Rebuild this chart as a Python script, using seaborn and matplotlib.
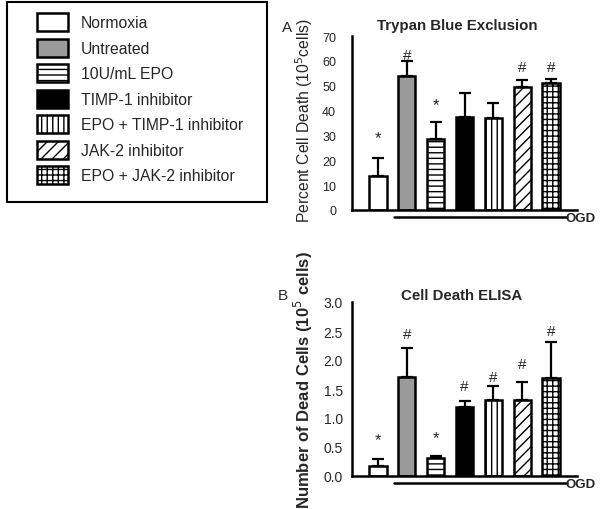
import seaborn as sns
import numpy as np
import matplotlib.pyplot as plt
import matplotlib.transforms as mtransforms
import matplotlib.patches as mpatches
import pandas as pd

groups = ["Normoxia", "Untreated", "10U/mL EPO", "TIMP-1 inhibitor",
          "EPO + TIMP-1 inhibitor", "JAK-2 inhibitor", "EPO + JAK-2 inhibitor"]
colors = ["white", "#9a9a9a", "white", "black", "white", "white", "white"]
hatches = ["", "", "---", "", "|||", "///", "+++"]

# panel A: trypan blue
trypan_mean = [13.7, 53.9, 28.7, 37.6, 37.2, 49.6, 51.0]
trypan_err = [7.1, 6.1, 6.9, 9.3, 6.0, 2.6, 1.6]
trypan_marks = ["*", "#", "*", "", "", "#", "#"]
trypan_mark_y = [29.0, 62.5, 42.5, 0, 0, 57.5, 57.5]

# panel B: ELISA
elisa_mean = [0.17, 1.70, 0.31, 1.19, 1.31, 1.31, 1.69]
elisa_err = [0.12, 0.50, 0.04, 0.10, 0.25, 0.31, 0.62]
elisa_marks = ["*", "#", "*", "#", "#", "#", "#"]
elisa_mark_y = [0.62, 2.45, 0.66, 1.55, 1.70, 1.93, 2.50]

sns.set_style("white")
plt.rcParams['font.family'] = ['Liberation Sans', 'DejaVu Sans']
plt.rcParams['hatch.linewidth'] = 1.0

fig = plt.figure(figsize=(6.01, 5.10), dpi=100)
ax_a = fig.add_axes([352 / 601, 1 - 211 / 510, 225 / 601, 174 / 510])
ax_b = fig.add_axes([352 / 601, 1 - 477 / 510, 225 / 601, 174 / 510])


def draw_panel(ax, means, errs, marks, mark_y, ylim, yticks, title, ylabel,
               lab_kw, tick_size, tick_pad, title_x, title_pad):
    df = pd.DataFrame({"group": groups, "value": means})
    sns.barplot(data=df, x="group", y="value", hue="group", order=groups,
                hue_order=groups, palette=dict(zip(groups, colors)),
                width=0.6, errorbar=None, legend=False, ax=ax,
                edgecolor="black", linewidth=1.8)
    for cont, h in zip(ax.containers, hatches):
        for bar in cont:
            bar.set_hatch(h)
            bar.set_edgecolor("black")
    x = np.arange(len(groups))
    ax.errorbar(x, means, yerr=[np.zeros(len(errs)), errs], fmt="none",
                ecolor="black", elinewidth=1.6, capsize=4, capthick=1.6, zorder=1)
    for xi, m, my in zip(x, marks, mark_y):
        if m:
            ax.text(xi, my, m, ha="center", va="center",
                    fontsize=11 if m == "#" else 12)
    ax.set_xlim(-0.9, 6.9)
    ax.set_ylim(*ylim)
    ax.set_yticks(yticks)
    ax.set_xticks(x)
    ax.set_xticklabels([])
    ax.set_xlabel("")
    ax.set_ylabel(ylabel, **lab_kw)
    ax.set_title(title, fontsize=10.8, fontweight="bold", pad=title_pad, x=title_x)
    ax.tick_params(axis="y", length=2, width=0.6, pad=tick_pad, labelsize=tick_size)
    ax.tick_params(axis="x", length=2, width=0.6, direction="out")
    for s in ["top", "right"]:
        ax.spines[s].set_visible(False)
    for s in ["left", "bottom"]:
        ax.spines[s].set_linewidth(1.8)
        ax.spines[s].set_color("black")
    trans = mtransforms.blended_transform_factory(ax.transData, ax.transAxes)
    ax.plot([0.55, 6.55], [-0.043, -0.043], color="black", lw=1.8,
            transform=trans, clip_on=False)
    ax.text(6.5, -0.048, "OGD", transform=trans, ha="left", va="center",
            fontsize=9.5, fontweight="bold")


draw_panel(ax_a, trypan_mean, trypan_err, trypan_marks, trypan_mark_y,
           (0, 70), range(0, 71, 10), "Trypan Blue Exclusion",
           "Percent Cell Death (10$^5$cells)", dict(fontsize=11.3), 9, 9.5,
           0.467, 5)
draw_panel(ax_b, elisa_mean, elisa_err, elisa_marks, elisa_mark_y,
           (0, 3), np.arange(0, 3.01, 0.5), "Cell Death ELISA",
           "Number of Dead Cells (10$^5$ cells)", dict(fontsize=12, fontweight="bold"),
           10, 4.5, 0.489, -2)
ax_b.set_yticklabels([f"{v:.1f}" for v in np.arange(0, 3.01, 0.5)])
ax_a.yaxis.set_label_coords(-0.164, 0.517)
ax_b.yaxis.set_label_coords(-0.164, 0.555)

fig.text(287 / 601, 1 - 28 / 510, "A", fontsize=11, ha="center", va="center")
fig.text(283 / 601, 1 - 296 / 510, "B", fontsize=11, ha="center", va="center")

# legend box
fig.patches.append(mpatches.Rectangle((7 / 601, 1 - 203 / 510), 260 / 601, 200 / 510,
                                      transform=fig.transFigure, fill=False,
                                      edgecolor="black", linewidth=1.5))
handles = [c[0] for c in ax_a.containers]
leg = fig.legend(handles, groups, loc="upper left",
                 bbox_to_anchor=(37 / 601, 1 - 14 / 510), fontsize=11.3,
                 handlelength=2.0, handleheight=1.4, handletextpad=0.8,
                 labelspacing=0.47, borderpad=0, borderaxespad=0, frameon=False)

fig.savefig("out.png", dpi=100)
plt.close()
